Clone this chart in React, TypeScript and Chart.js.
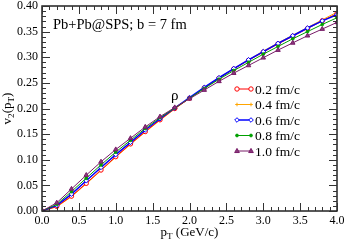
import React, { useEffect, useRef } from "react";
import { Chart, registerables } from "chart.js";

Chart.register(...registerables);

const pT = [0.0, 0.2, 0.4, 0.6, 0.8, 1.0, 1.2, 1.4, 1.6, 1.8, 2.0, 2.2, 2.4, 2.6, 2.8, 3.0, 3.2, 3.4, 3.6, 3.8, 4.0];
const v2_02 = [0, 0.009, 0.029, 0.054, 0.080, 0.106, 0.131, 0.155, 0.178, 0.200, 0.220, 0.240, 0.259, 0.277, 0.294, 0.310, 0.326, 0.341, 0.356, 0.371, 0.385];
const v2_04 = [0, 0.008, 0.028, 0.053, 0.079, 0.105, 0.130, 0.154, 0.177, 0.199, 0.220, 0.240, 0.260, 0.278, 0.295, 0.312, 0.328, 0.343, 0.358, 0.373, 0.388];
const v2_06 = [0, 0.011, 0.033, 0.059, 0.085, 0.110, 0.134, 0.158, 0.180, 0.201, 0.221, 0.241, 0.260, 0.278, 0.295, 0.311, 0.327, 0.342, 0.357, 0.371, 0.383];
const v2_08 = [0, 0.013, 0.038, 0.064, 0.090, 0.115, 0.138, 0.161, 0.182, 0.201, 0.220, 0.239, 0.257, 0.274, 0.290, 0.306, 0.321, 0.336, 0.350, 0.364, 0.377];
const v2_10 = [0, 0.016, 0.043, 0.070, 0.096, 0.120, 0.142, 0.164, 0.184, 0.202, 0.219, 0.236, 0.253, 0.269, 0.284, 0.299, 0.314, 0.328, 0.342, 0.355, 0.368];
const seriesLabels = ["0.2 fm/c", "0.4 fm/c", "0.6 fm/c", "0.8 fm/c", "1.0 fm/c"];
const seriesColors = ["#ff0000", "#ffa500", "#0000ff", "#00a000", "#781c68"];
const annotationText = "Pb+Pb@SPS; b = 7 fm";
const curveLabel = "ρ";

const SERIF = "'Liberation Serif', 'Times New Roman', serif";

type Marker = { style: string; r: number; fill: string };
const markers: Marker[] = [
  { style: "circle", r: 2.2, fill: "#ffffff" },
  { style: "cross", r: 1.8, fill: "#ffa500" },
  { style: "rectRot", r: 2.3, fill: "#ffffff" },
  { style: "circle", r: 1.4, fill: "#00a000" },
  { style: "triangle", r: 2.6, fill: "#8a3a7c" },
];

function drawMarker(ctx: CanvasRenderingContext2D, m: Marker, color: string, x: number, y: number) {
  ctx.save();
  ctx.strokeStyle = color;
  ctx.fillStyle = m.fill;
  ctx.lineWidth = 1;
  ctx.beginPath();
  if (m.style === "circle") {
    ctx.arc(x, y, m.r, 0, Math.PI * 2);
    ctx.fill();
    ctx.stroke();
  } else if (m.style === "cross") {
    ctx.moveTo(x - m.r, y);
    ctx.lineTo(x + m.r, y);
    ctx.moveTo(x, y - m.r);
    ctx.lineTo(x, y + m.r);
    ctx.stroke();
  } else if (m.style === "rectRot") {
    ctx.moveTo(x, y - m.r);
    ctx.lineTo(x + m.r, y);
    ctx.lineTo(x, y + m.r);
    ctx.lineTo(x - m.r, y);
    ctx.closePath();
    ctx.fill();
    ctx.stroke();
  } else if (m.style === "triangle") {
    ctx.moveTo(x, y - m.r);
    ctx.lineTo(x + m.r * 0.9, y + m.r * 0.6);
    ctx.lineTo(x - m.r * 0.9, y + m.r * 0.6);
    ctx.closePath();
    ctx.fill();
    ctx.stroke();
  }
  ctx.restore();
}

function drawSubText(ctx: CanvasRenderingContext2D, parts: [string, boolean][], x: number, y: number, size: number) {
  let total = 0;
  for (const [t, sub] of parts) {
    ctx.font = `${sub ? size * 0.7 : size}px ${SERIF}`;
    total += ctx.measureText(t).width;
  }
  let cx = x - total / 2;
  ctx.textBaseline = "alphabetic";
  ctx.textAlign = "left";
  for (const [t, sub] of parts) {
    ctx.font = `${sub ? size * 0.7 : size}px ${SERIF}`;
    ctx.fillText(t, cx, sub ? y + size * 0.25 : y);
    cx += ctx.measureText(t).width;
  }
}

const overlayPlugin = {
  id: "overlay",
  afterDatasetsDraw(chart: any) {
    const ctx: CanvasRenderingContext2D = chart.ctx;
    const { left, right, top, bottom } = chart.chartArea;
    const xs = chart.scales.x;
    const ys = chart.scales.y;
    ctx.save();
    ctx.strokeStyle = "#222222";
    ctx.lineWidth = 1.5;
    ctx.strokeRect(left, top, right - left, bottom - top);
    ctx.lineWidth = 1;
    ctx.strokeStyle = "#333333";
    ctx.beginPath();
    for (let i = 0; i <= 40; i++) {
      const v = i * 0.01;
      const len = i % 5 === 0 ? 8 : 4;
      const py = Math.round(ys.getPixelForValue(v)) + 0.5;
      ctx.moveTo(left, py);
      ctx.lineTo(left + len, py);
      ctx.moveTo(right, py);
      ctx.lineTo(right - len, py);
    }
    for (let i = 0; i <= 40; i++) {
      const v = i * 0.1;
      const len = i % 5 === 0 ? 8 : 4;
      const px = Math.round(xs.getPixelForValue(v)) + 0.5;
      ctx.moveTo(px, bottom);
      ctx.lineTo(px, bottom - len);
      ctx.moveTo(px, top);
      ctx.lineTo(px, top + len);
    }
    ctx.stroke();

    ctx.fillStyle = "#000000";
    ctx.font = `14.5px ${SERIF}`;
    ctx.textAlign = "left";
    ctx.textBaseline = "middle";
    ctx.fillText(annotationText, left + 11, top + 19);
    ctx.font = `15px ${SERIF}`;
    ctx.textAlign = "center";
    ctx.fillText(curveLabel, xs.getPixelForValue(1.8), ys.getPixelForValue(0.2) - 12);

    const lx0 = 237;
    const lx1 = 251;
    for (let i = 0; i < seriesLabels.length; i++) {
      const ly = 89 + i * 15.5;
      ctx.strokeStyle = seriesColors[i];
      ctx.lineWidth = i === 2 ? 1.5 : 1;
      ctx.beginPath();
      ctx.moveTo(lx0, ly);
      ctx.lineTo(lx1, ly);
      ctx.stroke();
      drawMarker(ctx, markers[i], seriesColors[i], lx0, ly);
      drawMarker(ctx, markers[i], seriesColors[i], lx1, ly);
      ctx.fillStyle = "#000000";
      ctx.font = `13.5px ${SERIF}`;
      ctx.textAlign = "left";
      ctx.textBaseline = "middle";
      ctx.fillText(seriesLabels[i], 255, ly + 1);
    }

    ctx.fillStyle = "#000000";
    drawSubText(ctx, [["p", false], ["T", true], [" (GeV/c)", false]], (left + right) / 2, 236, 13);
    ctx.save();
    ctx.translate(11, (top + bottom) / 2);
    ctx.rotate(-Math.PI / 2);
    drawSubText(ctx, [["v", false], ["2", true], ["(p", false], ["T", true], [")", false]], 0, 0, 13);
    ctx.restore();
    ctx.restore();
  },
};

export default function App() {
  const ref = useRef<HTMLCanvasElement>(null);
  useEffect(() => {
    document.body.style.margin = "0";
    const all = [v2_02, v2_04, v2_06, v2_08, v2_10];
    const datasets = all.map((vals, i) => ({
      label: seriesLabels[i],
      data: pT.map((x, k) => ({ x, y: vals[k] })),
      borderColor: seriesColors[i],
      backgroundColor: markers[i].fill,
      borderWidth: i === 2 ? 1.5 : 1,
      pointStyle: markers[i].style,
      pointRadius: markers[i].r,
      pointBorderColor: seriesColors[i],
      pointBackgroundColor: markers[i].fill,
      pointBorderWidth: 1,
      tension: 0,
      order: [3, 4, 2, 1, 0][i],
    }));
    const chart = new Chart(ref.current!, {
      type: "line",
      data: { datasets },
      options: {
        animation: false,
        responsive: false,
        devicePixelRatio: 1,
        layout: { padding: { top: 6, right: 8, left: 0, bottom: 0 } },
        plugins: { legend: { display: false }, tooltip: { enabled: false } },
        scales: {
          x: {
            type: "linear",
            min: 0,
            max: 4,
            grid: { display: false, drawTicks: false },
            border: { display: false },
            ticks: {
              stepSize: 0.5,
              autoSkip: false,
              maxRotation: 0,
              padding: 3,
              color: "#000",
              font: { family: SERIF, size: 12 },
              callback: (v: any) => Number(v).toFixed(1),
            },
            afterFit: (s: any) => {
              s.height = 30;
              s.paddingLeft = 0;
              s.paddingRight = 0;
              s.paddingTop = 0;
              s.paddingBottom = 0;
            },
          },
          y: {
            type: "linear",
            min: 0,
            max: 0.4,
            grid: { display: false, drawTicks: false },
            border: { display: false },
            ticks: {
              stepSize: 0.05,
              autoSkip: false,
              padding: 4,
              color: "#000",
              font: { family: SERIF, size: 12 },
              callback: (v: any) => Number(v).toFixed(2),
            },
            afterFit: (s: any) => {
              s.width = 42;
              s.paddingLeft = 0;
              s.paddingRight = 0;
              s.paddingTop = 0;
              s.paddingBottom = 0;
            },
          },
        },
      },
      plugins: [overlayPlugin],
    });
    return () => chart.destroy();
  }, []);
  return (
    <div style={{ width: 345, height: 241 }}>
      <canvas ref={ref} width={345} height={241} style={{ display: "block" }} />
    </div>
  );
}
